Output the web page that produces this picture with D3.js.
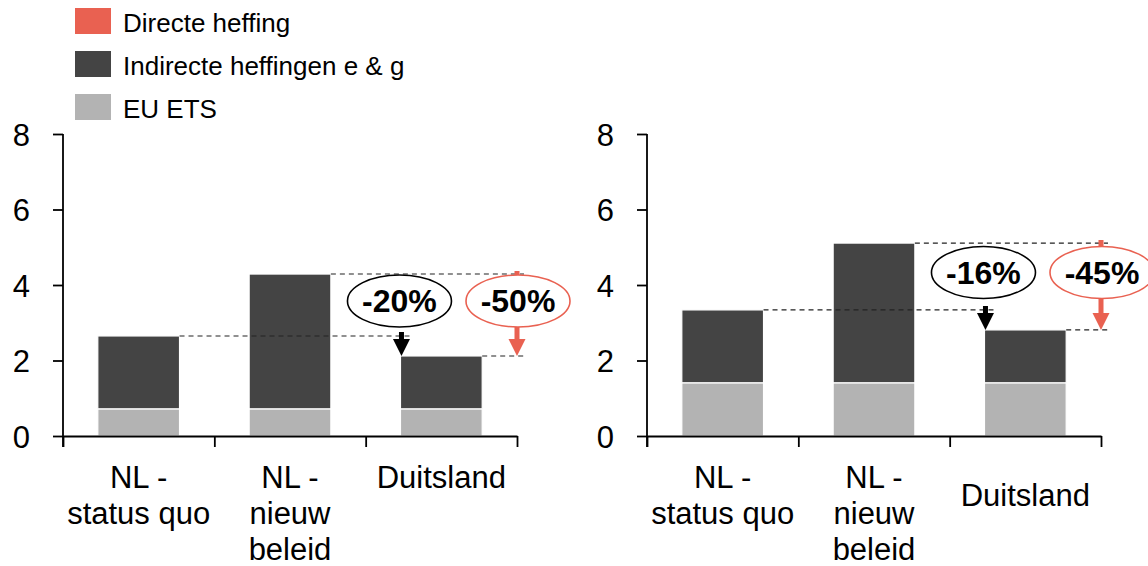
<!DOCTYPE html>
<html>
<head>
<meta charset="utf-8">
<script src="https://cdn.jsdelivr.net/npm/d3@7"></script>
<style>
  html, body { margin: 0; padding: 0; background: #fff; }
  svg { display: block; font-family: "Liberation Sans", Arial, sans-serif; }
</style>
</head>
<body>
<svg id="chart" width="1148" height="566"></svg>
<script>
// ---- data ----
const categories = ["NL - status quo", "NL - nieuw beleid", "Duitsland"];
const categoryLines = [["NL -", "status quo"], ["NL -", "nieuw", "beleid"], ["Duitsland"]];
const seriesNames = ["Directe heffing", "Indirecte heffingen e & g", "EU ETS"];
const yTicks = [0, 2, 4, 6, 8];

// left panel
const leftEts = [0.72, 0.72, 0.72];
const leftIndirect = [1.93, 3.57, 1.40];
const leftDirect = [0, 0, 0];
const leftChanges = ["-20%", "-50%"];

// right panel
const rightEts = [1.41, 1.41, 1.41];
const rightIndirect = [1.93, 3.70, 1.40];
const rightDirect = [0, 0, 0];
const rightChanges = ["-16%", "-45%"];

// ---- style ----
const colors = { "Directe heffing": "#E96151", "Indirecte heffingen e & g": "#444444", "EU ETS": "#B3B3B3" };
const FONT = "Liberation Sans, Arial, sans-serif";
const svg = d3.select("#chart");

// legend
const legend = svg.append("g");
seriesNames.forEach((name, i) => {
  const y0 = 8 + i * 43;
  legend.append("rect").attr("x", 75).attr("y", y0).attr("width", 36).attr("height", 26).attr("fill", colors[name]);
  legend.append("text").attr("x", 123).attr("y", y0 + 24).attr("font-size", 26).attr("fill", "#000").text(name);
});

const y = d3.scaleLinear().domain([0, 8]).range([436, 134]);

function panel(x0, x1, ets, indirect, direct, changes, duitslandCentered) {
  const g = svg.append("g");
  const x = d3.scaleBand().domain(categories).range([x0, x1]).paddingInner(0.46).paddingOuter(0.23);
  const xb = d3.scaleLinear().domain([0, 3]).range([x0, x1]);

  const rows = categories.map((c, i) => ({ cat: c, "EU ETS": ets[i], "Indirecte heffingen e & g": indirect[i], "Directe heffing": direct[i] }));
  const stack = d3.stack().keys(["EU ETS", "Indirecte heffingen e & g", "Directe heffing"])(rows);

  g.selectAll("g.s").data(stack).join("g").attr("fill", d => colors[d.key])
    .selectAll("rect").data(d => d.filter(p => p[1] - p[0] > 0)).join("rect")
    .attr("x", d => x(d.data.cat))
    .attr("width", x.bandwidth())
    .attr("y", d => y(d[1]))
    .attr("height", d => y(d[0]) - y(d[1]))
    .attr("stroke", "#fff").attr("stroke-width", 1.2);

  // y axis
  const ya = g.append("g").attr("transform", `translate(${x0},0)`)
    .call(d3.axisLeft(y).tickValues(yTicks).tickSize(10).tickSizeOuter(0).tickPadding(23).tickFormat(d3.format("d")));
  ya.select(".domain").attr("d", `M0,447V${y(8)}`).attr("stroke-width", 1.8);
  ya.selectAll(".tick line").attr("stroke-width", 1.8);
  ya.selectAll(".tick text").attr("font-size", 31).attr("fill", "#000").attr("font-family", FONT).attr("dy", "0.36em");

  // x axis boundaries
  const xa = g.append("g").attr("transform", `translate(0,${y(0)})`)
    .call(d3.axisBottom(xb).tickValues([0, 1, 2, 3]).tickSize(11).tickSizeOuter(0).tickFormat(""));
  xa.select(".domain").attr("stroke-width", 1.8);
  xa.selectAll(".tick line").attr("stroke-width", 1.8);

  // category labels
  categories.forEach((c, i) => {
    const lines = categoryLines[i];
    let base = y(0) + 52;
    if (duitslandCentered && lines.length === 1) base += 18;
    const t = g.append("text").attr("x", x(c) + x.bandwidth() / 2).attr("text-anchor", "middle").attr("font-size", 31).attr("fill", "#000");
    lines.forEach((l, j) => t.append("tspan").attr("x", x(c) + x.bandwidth() / 2).attr("y", base + j * 36).text(l));
  });

  // annotations
  const tot = rows.map(r => r["EU ETS"] + r["Indirecte heffingen e & g"] + r["Directe heffing"]);
  const ySq = y(tot[0]), yNew = y(tot[1]), yDe = y(tot[2]);
  const ax = x(categories[2]);
  const rx = x1;
  const dash = "5,4";
  g.append("line").attr("x1", x(categories[0]) + x.bandwidth()).attr("x2", ax + 9).attr("y1", ySq).attr("y2", ySq)
    .attr("stroke", "#222").attr("stroke-dasharray", dash).attr("stroke-width", 1.1);
  g.append("line").attr("x1", x(categories[1]) + x.bandwidth()).attr("x2", rx + 7).attr("y1", yNew).attr("y2", yNew)
    .attr("stroke", "#222").attr("stroke-dasharray", dash).attr("stroke-width", 1.1);
  g.append("line").attr("x1", ax + x.bandwidth()).attr("x2", rx + 7).attr("y1", yDe).attr("y2", yDe)
    .attr("stroke", "#222").attr("stroke-dasharray", dash).attr("stroke-width", 1.1);

  function arrow(cx, yTop, yBot, color) {
    const hh = 17, hw = 8.5, sw = 2.5;
    g.append("path")
      .attr("d", `M${cx - sw},${yTop}H${cx + sw}V${yBot - hh}H${cx + hw}L${cx},${yBot}L${cx - hw},${yBot - hh}H${cx - sw}Z`)
      .attr("fill", color);
  }
  arrow(ax + 1, ySq - 4, yDe, "#000");
  arrow(rx, yNew - 3, yDe, colors["Directe heffing"]);

  const ey = (yNew + ySq) / 2 - 4;
  function bubble(cx, txt, color) {
    g.append("ellipse").attr("cx", cx).attr("cy", ey).attr("rx", 52).attr("ry", 26)
      .attr("fill", "#fff").attr("stroke", color).attr("stroke-width", 1.6);
    g.append("text").attr("x", cx).attr("y", ey + 11).attr("text-anchor", "middle")
      .attr("font-size", 32).attr("font-weight", "bold").attr("fill", "#000").text(txt);
  }
  bubble(ax - 1, changes[0], "#000");
  bubble(rx + 1, changes[1], colors["Directe heffing"]);
}

panel(63, 517, leftEts, leftIndirect, leftDirect, leftChanges, false);
panel(647, 1101, rightEts, rightIndirect, rightDirect, rightChanges, true);
</script>
</body>
</html>
